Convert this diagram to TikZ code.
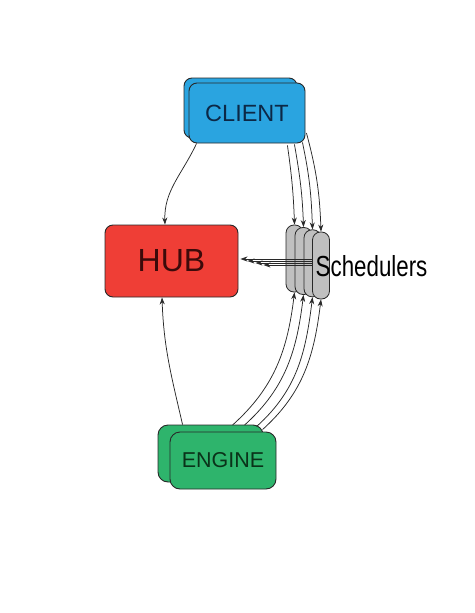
\documentclass[tikz,border=0pt]{standalone}
\usepackage{fontspec}
\usepackage{graphicx}
\setmainfont{Liberation Sans}
\usetikzlibrary{arrows.meta,calc}
\definecolor{cblue}{RGB}{42,164,224}
\definecolor{cred}{RGB}{239,62,54}
\definecolor{cgreen}{RGB}{46,180,108}
\definecolor{cgray}{RGB}{192,192,192}
\definecolor{edge}{RGB}{40,40,40}
\definecolor{tblue}{RGB}{12,40,70}
\definecolor{tred}{RGB}{60,10,10}
\definecolor{tgreen}{RGB}{10,50,25}
\begin{document}
\begin{tikzpicture}[x=1pt,y=-1pt,
  box/.style={draw=edge,line width=0.9pt,rounded corners=8pt,inner sep=0pt},
  sched/.style={draw=edge,line width=0.8pt,fill=cgray,rounded corners=8pt,minimum width=17pt,minimum height=67pt,inner sep=0pt},
  arr/.style={draw=edge,line width=0.75pt,-{Stealth[length=7pt,width=5pt]}}]
\useasboundingbox (0,0) rectangle (474,613);
% CLIENT
\node[box,fill=cblue,minimum width=113pt,minimum height=60pt] (c1) at (240.5,108) {};
\node[box,fill=cblue,minimum width=116pt,minimum height=60pt,text=tblue,font=\fontsize{23.5}{23.5}\selectfont] (c2) at (247,113) {CLIENT};
% HUB
\node[box,fill=cred,minimum width=133pt,minimum height=72pt,text=tred,font=\fontsize{32}{32}\selectfont] (hub) at (171.5,261) {HUB};
% ENGINE
\node[box,fill=cgreen,rounded corners=10pt,minimum width=105pt,minimum height=57pt] (e1) at (210.5,453.5) {};
\node[box,fill=cgreen,rounded corners=10pt,minimum width=106pt,minimum height=57pt,text=tgreen,font=\fontsize{21.5}{21.5}\selectfont] (e2) at (223,460.5) {ENGINE};
% Schedulers
\node[sched] (s1) at (294.5,258.5) {};
\node[sched] (s2) at (303.5,261) {};
\node[sched] (s3) at (312.5,263.3) {};
\node[sched] (s4) at (321,265.5) {};
\node[anchor=west,inner sep=0pt,font=\fontsize{29}{29}\selectfont] (lbl) at (315.5,266) {\scalebox{0.77}[1]{Schedulers}};
% client -> hub
\draw[arr] ($(c2.south west)+(8,0)$) to[out=-115,in=92] ($(hub.north)+(-6.5,0)$);
% engine -> hub
\draw[arr] ($(e1.north west)+(25,0)$) to[out=103,in=-88] ($(hub.south)+(-9.5,0)$);
% client -> schedulers
\draw[arr] ($(c2.south east)+(-18,2)$) to[out=-82,in=92] (s1.north);
\draw[arr] ($(c2.south east)+(-11,1)$) to[out=-80,in=92] (s2.north);
\draw[arr] ($(c2.south east)+(-3,-1)$) to[out=-78,in=92] (s3.north);
\draw[arr] ($(c2.east)+(1,20)$) to[out=-75,in=92] (s4.north);
% engine -> schedulers
\draw[arr] ($(e1.north west)+(75,0.5)$) to[out=42,in=-97] (s1.south);
\draw[arr] ($(e1.north west)+(87,0.5)$) to[out=42,in=-97] (s2.south);
\draw[arr] ($(e1.north west)+(99,2)$) to[out=42,in=-97] (s3.south);
\draw[arr] ($(e1.north west)+(105,5)$) to[out=42,in=-97] (s4.south);
% schedulers -> hub
\draw[arr] ($(s4.west)+(0,-6.5)$) -- ($(hub.east)+(2,-2)$);
\draw[arr] ($(s4.west)+(0,-4.5)$) -- ($(hub.east)+(9,0)$);
\draw[arr] ($(s4.west)+(0,-2.5)$) -- ($(hub.east)+(17,2)$);
\draw[arr] ($(s4.west)+(0,-0.5)$) -- ($(hub.east)+(25,4)$);
\end{tikzpicture}
\end{document}
